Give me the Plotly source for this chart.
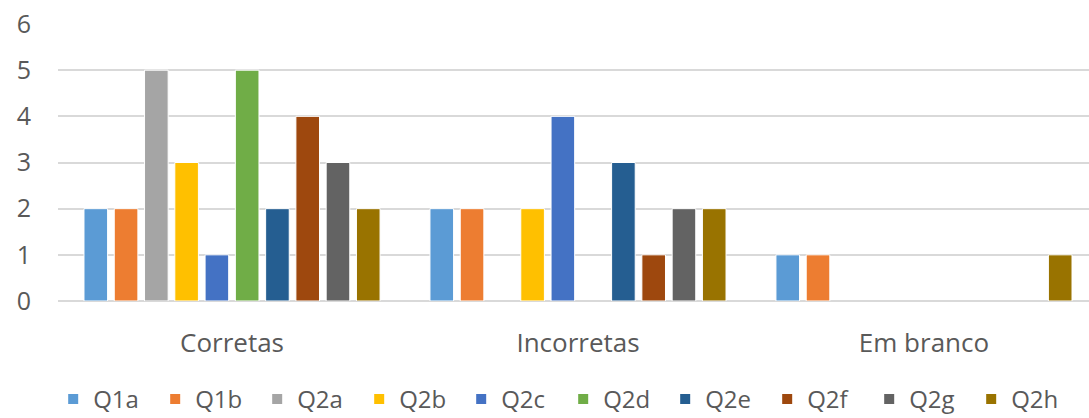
import plotly.graph_objects as go

categories = ["Corretas", "Incorretas", "Em branco"]
series_names = ["Q1a", "Q1b", "Q2a", "Q2b", "Q2c", "Q2d", "Q2e", "Q2f", "Q2g", "Q2h"]
q1a = [2, 2, 1]
q1b = [2, 2, 1]
q2a = [5, 0, 0]
q2b = [3, 2, 0]
q2c = [1, 4, 0]
q2d = [5, 0, 0]
q2e = [2, 3, 0]
q2f = [4, 1, 0]
q2g = [3, 2, 0]
q2h = [2, 2, 1]
y_ticks = [0, 1, 2, 3, 4, 5, 6]

series_values = [q1a, q1b, q2a, q2b, q2c, q2d, q2e, q2f, q2g, q2h]
colors = ["#5B9BD5", "#ED7D31", "#A5A5A5", "#FFC000", "#4472C4",
          "#70AD47", "#255E91", "#9E480E", "#636363", "#997300"]

font_family = "Open Sans, Liberation Sans, sans-serif"
text_color = "#595959"

fig = go.Figure()
for name, vals, col in zip(series_names, series_values, colors):
    fig.add_trace(go.Bar(
        name=name, x=categories, y=vals,
        marker=dict(
            color=col,
            # thin white outline only on bars that have height
            line=dict(color="white", width=[1 if v else 0 for v in vals]),
        ),
    ))

fig.update_layout(
    width=1089, height=418,
    margin=dict(l=58, r=0, t=24, b=117, autoexpand=False),
    paper_bgcolor="white", plot_bgcolor="white",
    barmode="group", bargap=0.125, bargroupgap=0.22,
    font=dict(family=font_family, color=text_color, size=25),
    showlegend=True,
    legend=dict(
        orientation="h", x=0.49, xanchor="center", y=-0.355, yanchor="middle",
        font=dict(size=24, color=text_color),
        entrywidth=57, entrywidthmode="pixels",
        itemsizing="constant", traceorder="normal",
    ),
    xaxis=dict(
        range=[-0.503, 2.477],
        showgrid=False, showline=False, zeroline=False,
        ticks="", ticklabelstandoff=24,
        tickfont=dict(size=26, color=text_color),
    ),
    yaxis=dict(
        range=[0, 6], tickvals=y_ticks,
        showgrid=True, gridcolor="#D9D9D9", gridwidth=1.5,
        zeroline=True, zerolinecolor="#D9D9D9", zerolinewidth=1.5,
        showline=False, ticks="", ticklabelstandoff=26,
        tickfont=dict(size=25, color=text_color),
    ),
)

fig.write_html("out.html")
